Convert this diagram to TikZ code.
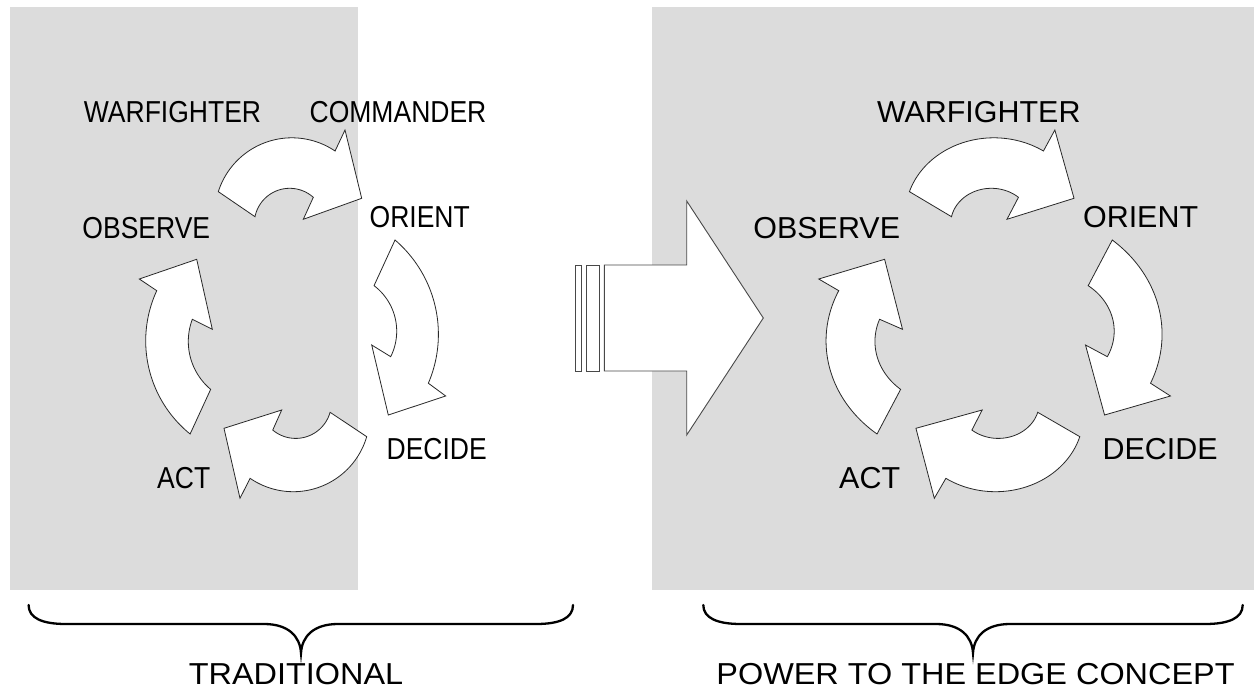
\documentclass[tikz,border=0pt]{standalone}
\usepackage{fontspec}
\newfontfamily\cycfont[FakeStretch=0.875]{Liberation Sans}
\newfontfamily\capfont[FakeStretch=1.07]{Liberation Sans}
\definecolor{panel}{RGB}{220,220,220}
\definecolor{edge}{RGB}{40,40,40}
\tikzset{
  cycarrow/.style={fill=white, draw=edge, line width=0.8pt, line join=miter},
  bigarrow/.style={fill=white, draw=edge!85, line width=0.9pt, line join=miter},
  bracestroke/.style={draw=black, line width=2.3pt, line cap=round},
  lbl/.style={font=\cycfont\fontsize{30.3}{36}\selectfont, inner sep=0pt},
  caplbl/.style={font=\capfont\fontsize{30.3}{36}\selectfont, inner sep=0pt},
}
\newcommand{\oodaArrows}{%
  % top arrow
  \draw[cycarrow] plot[domain=197.6:304, samples=50] ({291.9+77.2*cos(\x)},{215+77.2*sin(\x)})
    -- (345,130) -- (361.7,198.3) -- (303.3,219.3)
    -- plot[domain=311.8:191.4, samples=50] ({289.7+35.4*cos(\x)},{223.7+35.4*sin(\x)}) -- cycle;
  % right arrow
  \draw[cycarrow] plot[domain=-49.4:23.2, samples=50] ({314.2+124.2*cos(\x)},{334.3+124.2*sin(\x)})
    -- (445.7,396) -- (388.3,415) -- (371.7,345)
    -- plot[domain=26.5:-52.9, samples=50] ({339.6+57.1*cos(\x)},{331.2+57.1*sin(\x)}) -- cycle;
  % bottom arrow
  \draw[cycarrow] plot[domain=16.3:124.4, samples=50] ({293.3+76.5*cos(\x)},{415.2+76.5*sin(\x)})
    -- (240,498.3) -- (224,428.3) -- (281.7,410)
    -- plot[domain=130:15.6, samples=50] ({295.7+35.7*cos(\x)},{402.7+35.7*sin(\x)}) -- cycle;
  % left arrow
  \draw[cycarrow] plot[domain=129:204.8, samples=50] ({265.5+119.8*cos(\x)},{340.9+119.8*sin(\x)})
    -- (139.3,279) -- (196.7,259.3) -- (212.3,329.3)
    -- plot[domain=200.7:130, samples=50] ({250.9+62.6*cos(\x)},{341.4+62.6*sin(\x)}) -- cycle;
}
\begin{document}
\begin{tikzpicture}[x=1pt, y=-1pt]
\useasboundingbox (0,0) rectangle (1256,691);
\fill[white] (0,0) rectangle (1256,691);
% panels
\fill[panel] (10,7) rectangle (358,590);
\fill[panel] (652,7) rectangle (1254,590);

% left cycle (traditional)
\oodaArrows
\node[lbl] (lwar) at (172.5,112.5) {WARFIGHTER};
\node[lbl] (lcom) at (398,112.5) {COMMANDER};
\node[lbl] (lobs) at (146.3,228) {OBSERVE};
\node[lbl] (lori) at (419.7,216.7) {ORIENT};
\node[lbl] (ldec) at (436.7,448.7) {DECIDE};
\node[lbl] (lact) at (183.7,478) {ACT};

% transition arrow
\draw[bigarrow] (575,265) rectangle (581,371);
\draw[bigarrow] (586.7,265) rectangle (599,371);
\draw[bigarrow] (604.3,265) -- (686.7,265) -- (686.7,201) -- (763.3,318)
  -- (686.7,435) -- (686.7,371) -- (604.3,371) -- cycle;

% right cycle (power to the edge)
\begin{scope}[shift={(994,0)}, xscale=1.148, shift={(-292,0)}]
  \oodaArrows
  \node[lbl, transform shape] (rwar) at (278.7,112.5) {WARFIGHTER};
  \node[lbl, transform shape] (robs) at (146.3,228) {OBSERVE};
  \node[lbl, transform shape] (rori) at (419.7,216.7) {ORIENT};
  \node[lbl, transform shape] (rdec) at (436.7,448.7) {DECIDE};
  \node[lbl, transform shape] (ract) at (183.7,478) {ACT};
\end{scope}

% braces
\draw[bracestroke] (28.6,605) .. controls (28.6,618) and (42,624) .. (66,624) -- (264,624)
  .. controls (288,624) and (300,636) .. (301,653)
  .. controls (302,636) and (314,624) .. (338,624) -- (536,624)
  .. controls (560,624) and (573,618) .. (573,605);
\draw[bracestroke] (703.3,605) .. controls (703.3,618) and (717,624) .. (741,624) -- (936,624)
  .. controls (960,624) and (972,636) .. (973,653)
  .. controls (974,636) and (986,624) .. (1010,624) -- (1205,624)
  .. controls (1229,624) and (1242.7,618) .. (1242.7,605);
\node[caplbl] (trad) at (296,674) {TRADITIONAL};
\node[caplbl] (edge) at (975.5,674) {POWER TO THE EDGE CONCEPT};
\end{tikzpicture}
\end{document}
